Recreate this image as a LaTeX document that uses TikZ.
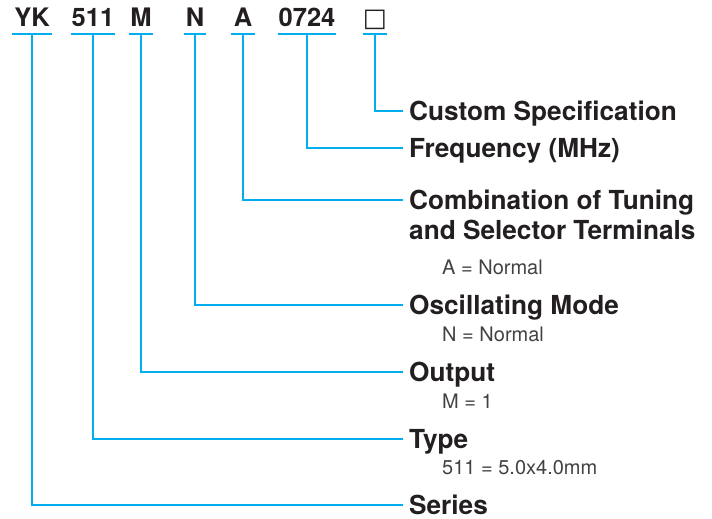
\documentclass[tikz,border=0pt]{standalone}
\usepackage{fontspec}
\setmainfont{TeX Gyre Heros}
\newfontfamily\symfont{DejaVu Sans}
\usepackage{xcolor}
\usetikzlibrary{positioning}
\definecolor{Lead}{HTML}{00AEEF}
\definecolor{Ink}{HTML}{231F20}

\begin{document}
\begin{tikzpicture}[
  x=1pt, y=-1pt,
  code/.style={font=\bfseries\fontsize{25.5}{30}\selectfont, text=Ink, inner sep=0pt, text depth=7pt, anchor=base},
  title/.style={font=\bfseries\fontsize{26.2}{30}\selectfont, text=Ink, inner sep=0pt, anchor=base west, align=left},
  note/.style={font=\fontsize{20}{24}\selectfont, text=Ink!85, inner sep=0pt, anchor=base west},
  lead/.style={draw=Lead, line width=2pt}
]
  \useasboundingbox (0,0) rectangle (712,519);

  \node[code, minimum width=39pt] (yk) at (32,27) {YK};
  \node[code, minimum width=43pt] (size) at (93,27) {511};
  \node[code, minimum width=24pt] (out) at (141,27) {M};
  \node[code, minimum width=21pt] (osc) at (195,27) {N};
  \node[code, minimum width=23pt] (term) at (243,27) {A};
  \node[code, minimum width=56pt] (freq) at (307,27) {0724};
  \node[code, minimum width=23pt, font=\symfont\fontsize{25.5}{30}\selectfont] (spec) at (375,27) {□};

  \node[title] (specT) at (409,120) {Custom Specification};
  \node[title] (freqT) at (409,157) {Frequency (MHz)};
  \node[title] (termT) at (409,239) {Combination of Tuning\\and Selector Terminals};
  \node[note] (termN) at (442,274) {A = Normal};
  \node[title] (oscT) at (409,314) {Oscillating Mode};
  \node[note] (oscN) at (442,341) {N = Normal};
  \node[title] (outT) at (409,381) {Output};
  \node[note] (outN) at (442,408) {M = 1};
  \node[title] (sizeT) at (409,448) {Type};
  \node[note] (sizeN) at (442,474) {511 = 5.0x4.0mm};
  \node[title] (ykT) at (409,514) {Series};

  \foreach \n in {yk,size,out,osc,term,freq,spec}
    \draw[lead] (\n.south west) -- (\n.south east);

  \draw[lead] (spec.south) |- ([xshift=-6pt,yshift=9.5pt]specT.base west);
  \draw[lead] (freq.south) |- ([xshift=-6pt,yshift=9.5pt]freqT.base west);
  \draw[lead] (term.south) |- ([xshift=-6pt,yshift=39.5pt]termT.base west);
  \draw[lead] (osc.south) |- ([xshift=-6pt,yshift=9.5pt]oscT.base west);
  \draw[lead] (out.south) |- ([xshift=-6pt,yshift=9.5pt]outT.base west);
  \draw[lead] (size.south) |- ([xshift=-6pt,yshift=9.5pt]sizeT.base west);
  \draw[lead] (yk.south) |- ([xshift=-6pt,yshift=9.5pt]ykT.base west);
\end{tikzpicture}
\end{document}
